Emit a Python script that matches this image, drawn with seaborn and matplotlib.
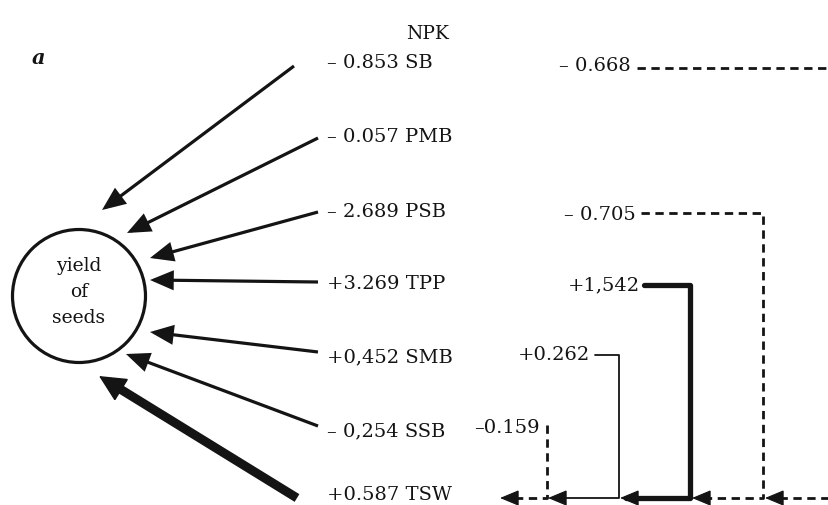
import matplotlib
matplotlib.use("Agg")
import matplotlib.pyplot as plt
from matplotlib.patches import Circle
import numpy as np
import seaborn as sns

# ---------------- data ----------------
direct_vars = ["SB", "PMB", "PSB", "TPP", "SMB", "SSB", "TSW"]
direct_coef = ["– 0.853", "– 0.057", "– 2.689", "+3.269", "+0,452", "– 0,254", "+0.587"]
indirect_vars = ["SB", "PSB", "TPP", "SMB", "SSB"]          # indirect effects via TSW
indirect_coef = ["– 0.668", "– 0.705", "+1,542", "+0.262", "–0.159"]
target_label = "yield\nof\nseeds"
panel_title = "NPK"
panel_letter = "a"

# ---------------- layout (pixel space) ----------------
W, H = 829, 505
label_x = 327
label_y = [63, 137, 212, 284, 357, 431, 495]
tails = [(294, 66), (318, 138), (318, 212), (318, 282), (318, 352), (318, 426), (297, 498)]
heads = [(102, 210), (127, 233), (150, 258), (150, 280), (150, 332), (126, 354), (99, 376)]
arrow_lw = [2.3, 2.3, 2.3, 2.3, 2.3, 2.3, 6.5]

bottom_y = 498
ind_text_right = [631, 636, 640, 590, 540]
ind_text_y = [66, 215, 285, 355, 428]
ind_start_x = [637, 641, 644, 595, 547]
ind_start_y = [68, 213, 285, 355, 425]
ind_elbow_x = [860, 763, 690, 619, 547]
ind_tip_x = [765, 692, 620, 548, 500]
ind_dashed = [True, True, False, False, True]
ind_lw = [2.0, 2.0, 3.8, 1.3, 2.0]

INK = "#141414"

sns.set_theme(style="white")
plt.rcParams["font.family"] = ["DejaVu Serif"]

fig = plt.figure(figsize=(W / 100, H / 100), dpi=100)
ax = fig.add_axes([0, 0, 1, 1])
ax.set_xlim(0, W)
ax.set_ylim(H, 0)
ax.axis("off")

fs = 14

# title and panel letter
ax.text(428, 34, panel_title, ha="center", va="center", fontsize=fs - 0.5, color=INK)
ax.text(38, 58, panel_letter, ha="center", va="center", fontsize=fs + 1,
        fontweight="bold", fontstyle="italic", color=INK)

# target node
ax.add_patch(Circle((79, 296), 66.5, fill=False, lw=2.3, ec=INK))
ax.text(79, 292, target_label, ha="center", va="center", fontsize=fs - 0.5,
        linespacing=1.58, color=INK)

# direct effects
for name, coef, ly, t, h, lw in zip(direct_vars, direct_coef, label_y, tails, heads, arrow_lw):
    ax.text(label_x, ly, f"{coef} {name}", ha="left", va="center", fontsize=fs,
            color=INK)
    if lw > 4:
        # thick shaft + separately drawn large head
        t_arr, h_arr = np.array(t, float), np.array(h, float)
        u = (h_arr - t_arr) / np.linalg.norm(h_arr - t_arr)
        shaft_end = h_arr - u * 16
        ax.annotate("", xy=tuple(shaft_end), xytext=t,
                    arrowprops=dict(arrowstyle="-", lw=lw, color=INK,
                                    shrinkA=0, shrinkB=0, capstyle="butt"))
        ax.annotate("", xy=h, xytext=tuple(h_arr - u * 4),
                    arrowprops=dict(arrowstyle="-|>,head_length=1.75,head_width=0.85",
                                    mutation_scale=10, lw=1.0, color=INK,
                                    shrinkA=0, shrinkB=0, joinstyle="miter"))
    else:
        ax.annotate("", xy=h, xytext=t,
                    arrowprops=dict(arrowstyle="-|>,head_length=1.3,head_width=0.55",
                                    mutation_scale=10, lw=lw, color=INK,
                                    shrinkA=0, shrinkB=0,
                                    capstyle="butt", joinstyle="miter"))

# indirect effects through TSW
for coef, tx, ty, sx, sy, ex, tip, dashed, lw in zip(
        indirect_coef, ind_text_right, ind_text_y, ind_start_x, ind_start_y,
        ind_elbow_x, ind_tip_x, ind_dashed, ind_lw):
    ax.text(tx, ty, coef, ha="right", va="center", fontsize=fs, color=INK)
    xs = [sx, ex, ex, tip + 6]
    ys = [sy, sy, bottom_y, bottom_y]
    ls = (0, (3, 2)) if dashed else "-"
    sns.lineplot(x=xs, y=ys, sort=False, estimator=None, ax=ax, color=INK,
                 lw=lw, linestyle=ls, legend=False)
    ax.annotate("", xy=(tip, bottom_y), xytext=(tip + 8, bottom_y),
                arrowprops=dict(arrowstyle="-|>,head_length=1.2,head_width=0.5",
                                mutation_scale=10, lw=0.8, color=INK,
                                shrinkA=0, shrinkB=0, joinstyle="miter"))

ax.set_xlim(0, W)
ax.set_ylim(H, 0)
ax.axis("off")
fig.savefig("out.png", dpi=100, facecolor="white")
